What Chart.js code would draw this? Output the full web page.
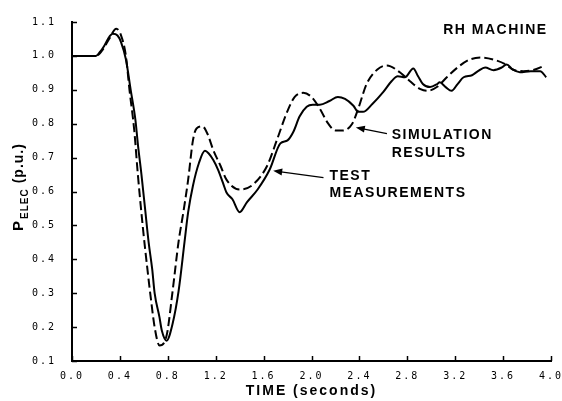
<!DOCTYPE html>
<html>
<head>
<meta charset="utf-8">
<script src="https://cdn.jsdelivr.net/npm/chart.js@4.4.1/dist/chart.umd.min.js"></script>
<style>
  html, body { margin: 0; padding: 0; background: #fff; }
  canvas { display: block; }
</style>
</head>
<body>
<canvas id="pelecChart" width="562" height="401"></canvas>
<script>
// simulation results (dashed)
const simTime = [0, 0.20, 0.26, 0.31, 0.37, 0.41, 0.45, 0.48, 0.52, 0.55, 0.59, 0.63, 0.66, 0.69, 0.73, 0.79, 0.84, 0.89, 0.93, 0.97,
  1.01, 1.04, 1.09, 1.13, 1.18, 1.24, 1.29, 1.40, 1.51, 1.63, 1.71, 1.80, 1.86, 1.93, 2.00, 2.07, 2.14, 2.20, 2.26, 2.34,
  2.39, 2.46, 2.55, 2.63, 2.74, 2.82, 2.91, 2.97, 3.05, 3.13, 3.22, 3.32, 3.42, 3.52, 3.62, 3.68, 3.77, 3.85, 3.95];
const simPelec = [1.0, 1.0, 1.02, 1.05, 1.08, 1.06, 1.0, 0.9, 0.78, 0.65, 0.5, 0.37, 0.28, 0.2, 0.146, 0.175, 0.306, 0.452, 0.539, 0.635,
  0.751, 0.786, 0.792, 0.771, 0.722, 0.676, 0.635, 0.606, 0.62, 0.676, 0.751, 0.838, 0.879, 0.891, 0.879, 0.844, 0.80, 0.78, 0.78, 0.80,
  0.844, 0.917, 0.96, 0.972, 0.951, 0.926, 0.902, 0.897, 0.909, 0.937, 0.966, 0.989, 0.995, 0.989, 0.975, 0.96, 0.955, 0.958, 0.972];

// test measurements (solid)
const testTime = [0, 0.20, 0.23, 0.27, 0.30, 0.34, 0.38, 0.41, 0.45, 0.49, 0.53, 0.55, 0.58, 0.61, 0.64, 0.67, 0.69, 0.73, 0.75, 0.79, 0.84,
  0.89, 0.94, 0.97, 1.01, 1.06, 1.11, 1.14, 1.18, 1.22, 1.26, 1.29, 1.34, 1.40, 1.46, 1.55, 1.65, 1.74, 1.80, 1.85, 1.90,
  1.96, 2.01, 2.07, 2.15, 2.22, 2.28, 2.35, 2.39, 2.43, 2.51, 2.60, 2.67, 2.72, 2.78, 2.85, 2.89, 2.93, 2.99, 3.05, 3.07,
  3.12, 3.17, 3.22, 3.27, 3.34, 3.39, 3.45, 3.52, 3.59, 3.63, 3.68, 3.74, 3.83, 3.91, 3.96];
const testPelec = [1.0, 1.0, 1.01, 1.03, 1.05, 1.065, 1.06, 1.04, 0.99, 0.9, 0.81, 0.74, 0.65, 0.55, 0.45, 0.37, 0.30, 0.23, 0.19, 0.16, 0.21,
  0.306, 0.452, 0.539, 0.617, 0.684, 0.72, 0.713, 0.693, 0.664, 0.626, 0.597, 0.577, 0.539, 0.568, 0.606, 0.664, 0.742, 0.751, 0.777, 0.821,
  0.85, 0.856, 0.856, 0.867, 0.879, 0.873, 0.853, 0.835, 0.835, 0.859, 0.894, 0.926, 0.94, 0.937, 0.963, 0.94, 0.917, 0.908, 0.917, 0.922,
  0.908, 0.897, 0.917, 0.937, 0.943, 0.955, 0.966, 0.958, 0.966, 0.975, 0.96, 0.952, 0.955, 0.955, 0.937];

const xTickValues = [0.0, 0.4, 0.8, 1.2, 1.6, 2.0, 2.4, 2.8, 3.2, 3.6, 4.0];
const yTickValues = [0.1, 0.2, 0.3, 0.4, 0.5, 0.6, 0.7, 0.8, 0.9, 1.0, 1.1];

const toPoints = (xs, ys) => xs.map((x, i) => ({ x: x, y: ys[i] }));

// labels placed in data units: [text, time, pelec]
const notes = [
  ['RH MACHINE', 3.10, 1.077],
  ['SIMULATION', 2.67, 0.766],
  ['RESULTS', 2.67, 0.713],
  ['TEST', 2.15, 0.644],
  ['MEASUREMENTS', 2.15, 0.594]
];
const arrows = [
  [2.63, 0.771, 2.37, 0.789],
  [2.10, 0.641, 1.68, 0.661]
];

const decorPlugin = {
  id: 'decor',
  beforeDraw(chart) {
    chart.ctx.letterSpacing = '2px';
  },
  afterDraw(chart) {
    const ctx = chart.ctx;
    const xs = chart.scales.x, ys = chart.scales.y;
    const area = chart.chartArea;
    ctx.save();
    ctx.strokeStyle = '#000';
    ctx.fillStyle = '#000';
    ctx.lineWidth = 1.5;
    // inward tick marks
    yTickValues.forEach(v => {
      const py = Math.round(ys.getPixelForValue(v)) + 0.5;
      ctx.beginPath(); ctx.moveTo(area.left, py); ctx.lineTo(area.left + 5, py); ctx.stroke();
    });
    xTickValues.forEach(v => {
      const px = Math.round(xs.getPixelForValue(v)) + 0.5;
      ctx.beginPath(); ctx.moveTo(px, area.bottom); ctx.lineTo(px, area.bottom - 5); ctx.stroke();
    });

    // annotation text
    ctx.letterSpacing = '1.5px';
    ctx.font = 'bold 14px "Liberation Sans", Arial, sans-serif';
    ctx.textAlign = 'left';
    ctx.textBaseline = 'middle';
    notes.forEach(n => {
      ctx.fillText(n[0], xs.getPixelForValue(n[1]), ys.getPixelForValue(n[2]));
    });

    // arrows
    ctx.lineWidth = 1.3;
    arrows.forEach(a => {
      const x1 = xs.getPixelForValue(a[0]), y1 = ys.getPixelForValue(a[1]);
      const x2 = xs.getPixelForValue(a[2]), y2 = ys.getPixelForValue(a[3]);
      const ang = Math.atan2(y2 - y1, x2 - x1);
      ctx.beginPath(); ctx.moveTo(x1, y1); ctx.lineTo(x2 - 6 * Math.cos(ang), y2 - 6 * Math.sin(ang)); ctx.stroke();
      ctx.beginPath();
      ctx.moveTo(x2, y2);
      ctx.lineTo(x2 - 9 * Math.cos(ang) + 3.5 * Math.sin(ang), y2 - 9 * Math.sin(ang) - 3.5 * Math.cos(ang));
      ctx.lineTo(x2 - 9 * Math.cos(ang) - 3.5 * Math.sin(ang), y2 - 9 * Math.sin(ang) + 3.5 * Math.cos(ang));
      ctx.closePath(); ctx.fill();
    });

    // y axis title with subscript
    ctx.translate(23, 231);
    ctx.rotate(-Math.PI / 2);
    ctx.textBaseline = 'alphabetic';
    ctx.letterSpacing = '1px';
    ctx.font = 'bold 15px "Liberation Sans", Arial, sans-serif';
    let cx = 0;
    ctx.fillText('P', cx, 0);
    cx += ctx.measureText('P').width + 1;
    ctx.font = 'bold 10px "Liberation Sans", Arial, sans-serif';
    ctx.fillText('ELEC', cx, 5);
    cx += ctx.measureText('ELEC').width + 5;
    ctx.font = 'bold 14px "Liberation Sans", Arial, sans-serif';
    ctx.fillText('(p.u.)', cx, 0);
    ctx.restore();
  }
};

const ctx = document.getElementById('pelecChart').getContext('2d');
const chart = new Chart(ctx, {
  type: 'line',
  data: {
    datasets: [{
      label: 'Simulation results',
      data: toPoints(simTime, simPelec),
      borderColor: '#000',
      borderWidth: 2,
      borderDash: [9, 4],
      pointRadius: 0,
      cubicInterpolationMode: 'monotone',
      fill: false
    }, {
      label: 'Test measurements',
      data: toPoints(testTime, testPelec),
      borderColor: '#000',
      borderWidth: 2,
      pointRadius: 0,
      cubicInterpolationMode: 'monotone',
      fill: false
    }]
  },
  options: {
    responsive: false,
    animation: false,
    devicePixelRatio: 1,
    layout: { padding: { left: 0, right: 11, top: 17, bottom: 0 } },
    plugins: {
      legend: { display: false },
      tooltip: { enabled: false }
    },
    scales: {
      x: {
        type: 'linear',
        min: 0,
        max: 4,
        afterBuildTicks: (scale) => { scale.ticks = xTickValues.map(v => ({ value: v })); },
        afterFit: (scale) => { scale.height = 40; scale.paddingLeft = 0; scale.paddingRight = 0; },
        grid: { display: false, drawTicks: false },
        border: { display: true, color: '#000', width: 2 },
        ticks: {
          padding: 9,
          maxRotation: 0,
          color: '#000',
          font: { family: '"DejaVu Sans Mono", monospace', size: 10 },
          callback: (v) => Number(v).toFixed(1)
        },
        title: {
          display: true,
          text: 'TIME (seconds)',
          color: '#000',
          font: { family: '"Liberation Sans", Arial, sans-serif', size: 14, weight: 'bold' },
          padding: { top: 0, bottom: 1 }
        }
      },
      y: {
        type: 'linear',
        min: 0.1,
        max: 1.1,
        afterBuildTicks: (scale) => { scale.ticks = yTickValues.map(v => ({ value: v })); },
        afterFit: (scale) => { scale.width = 72; },
        grid: { display: false, drawTicks: false },
        border: { display: true, color: '#000', width: 2 },
        ticks: {
          padding: 16,
          color: '#000',
          font: { family: '"DejaVu Sans Mono", monospace', size: 10 },
          callback: (v) => Number(v).toFixed(1)
        }
      }
    }
  },
  plugins: [decorPlugin]
});
</script>
</body>
</html>
